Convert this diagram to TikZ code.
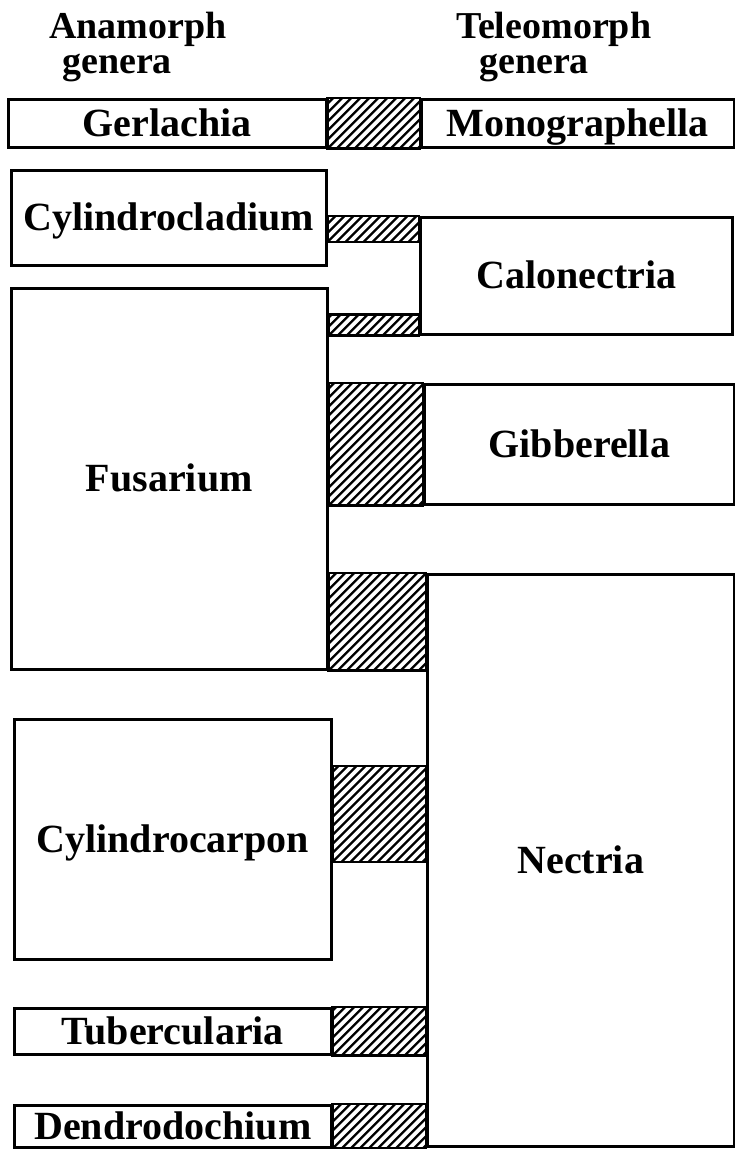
\documentclass[tikz,border=0pt]{standalone}
\usepackage{fontspec}
\setmainfont{Liberation Serif}
\begin{document}
\begin{tikzpicture}[x=1pt,y=-1pt,
  lbl/.style={font=\fontsize{38}{42}\selectfont\bfseries, inner sep=0pt},
  gbox/.style={draw, line width=2.6pt, rectangle, anchor=north west, inner sep=0pt,
    text height=26pt, text depth=0pt,
    font=\fontsize{40}{44}\selectfont\bfseries},
  hatchbox/.style={draw, line width=2.6pt,
    path picture={
      \foreach \i in {-180,-171,...,120}
        \draw[line width=2.3pt] ([xshift=\i pt]path picture bounding box.south west) -- ++(300pt,300pt);
    }}
]
\useasboundingbox (0,0) rectangle (734,1149);

% headers
\node[lbl, anchor=base west] (hA1) at (49,38) {Anamorph};
\node[lbl, anchor=base west] (hA2) at (62,73) {genera};
\node[lbl, anchor=base west] (hT1) at (456,38) {Teleomorph};
\node[lbl, anchor=base west] (hT2) at (479,73) {genera};

% anamorph boxes
\node[gbox, minimum width=318pt, minimum height=48pt] (ger) at (7,98) {Gerlachia};
\node[gbox, minimum width=315pt, minimum height=95pt] (cyl) at (10,169) {Cylindrocladium};
\node[gbox, minimum width=316pt, minimum height=381pt] (fus) at (10,287) {Fusarium};
\node[gbox, minimum width=317pt, minimum height=240pt] (cyc) at (13,718) {Cylindrocarpon};
\node[gbox, minimum width=317pt, minimum height=46pt] (tub) at (13,1007) {Tubercularia};
\node[gbox, minimum width=317pt, minimum height=42pt] (den) at (13,1104) {Dendrodochium};

% teleomorph boxes
\node[gbox, minimum width=313pt, minimum height=48pt] (mono) at (420,98) {Monographella};
\node[gbox, minimum width=312pt, minimum height=117pt] (cal) at (419,216) {Calonectria};
\node[gbox, minimum width=310pt, minimum height=120pt] (gib) at (423,383) {Gibberella};
\node[gbox, minimum width=307pt, minimum height=572pt] (nec) at (426,573) {Nectria};

% hatched links
\draw[hatchbox] (ger.north east) rectangle (mono.south west);
\draw[hatchbox] (cyl.east |- cal.north) rectangle ([yshift=-26pt]cal.north west);
\draw[hatchbox] ([yshift=21pt]fus.east |- cal.south) rectangle (cal.south west);
\draw[hatchbox] (fus.east |- gib.north) rectangle (gib.south west);
\draw[hatchbox] (fus.east |- nec.north) rectangle (nec.west |- fus.south);
\draw[hatchbox] ([yshift=-48pt]cyc.north east) rectangle ([yshift=-144pt]nec.west |- cyc.north);
\draw[hatchbox] (tub.north east) rectangle (nec.west |- tub.south);
\draw[hatchbox] (den.north east) rectangle (nec.west |- den.south);
\end{tikzpicture}
\end{document}
